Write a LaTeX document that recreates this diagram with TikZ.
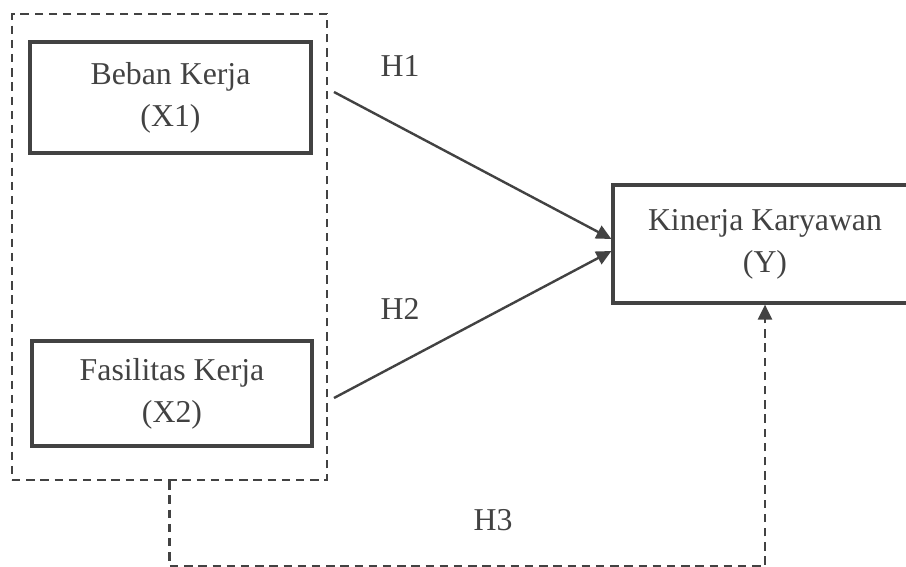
\documentclass[tikz,border=0pt]{standalone}
\usepackage{fontspec}
\setmainfont{Liberation Serif}
\usetikzlibrary{arrows.meta}
\definecolor{ink}{HTML}{424242}

\begin{document}
\begin{tikzpicture}[x=0.5pt,y=-0.5pt,
	every node/.style={font=\fontsize{15.9}{21}\selectfont,text=ink},
	varbox/.style={draw=ink,line width=1.6pt,align=center,inner sep=0pt},
	dashline/.style={draw=ink,line width=1.2pt,dash pattern=on 4.2pt off 2.9pt},
	arrowline/.style={draw=ink,line width=1.2pt},
	>={Triangle[length=7.5pt,width=7pt]}]
	\def\W{906} %width of picture
	\def\H{567} %height of picture
	\useasboundingbox (0,0) rectangle (\W,\H);
	\clip (0,0) rectangle (\W,\H);
	
	%BOXES
	\node[dashline,minimum width=157.5pt,minimum height=233pt] (outer) at (169.5,247) {};
	\node[varbox,minimum width=140.5pt,minimum height=55.5pt] (X1) at (170.5,97.5) {Beban Kerja\\(X1)};
	\node[varbox,minimum width=140pt,minimum height=52.5pt] (X2) at (172,393.5) {Fasilitas Kerja\\(X2)};
	\node[varbox,minimum width=152pt,minimum height=59pt] (Y) at (765,244) {Kinerja Karyawan\\(Y)};
	
	%ARROWS
	\coordinate (h1s) at (334,92); %start of H1
	\coordinate (h2s) at (334,398); %start of H2
	\coordinate (bot) at (0,566); %level of the H3 line
	\draw[arrowline,->] (h1s) -- ([yshift=2.5pt]Y.west);
	\draw[arrowline,->] (h2s) -- ([yshift=-3.5pt]Y.west);
	\draw[dashline,->] (outer.south) -- (outer.south |- bot) -| (Y.south);
	
	%LABELS
	\node[inner sep=0pt] (H1) at (400,66) {H1};
	\node[inner sep=0pt] (H2) at (400,309) {H2};
	\node[inner sep=0pt] (H3) at (493,520) {H3};
\end{tikzpicture}
\end{document}
